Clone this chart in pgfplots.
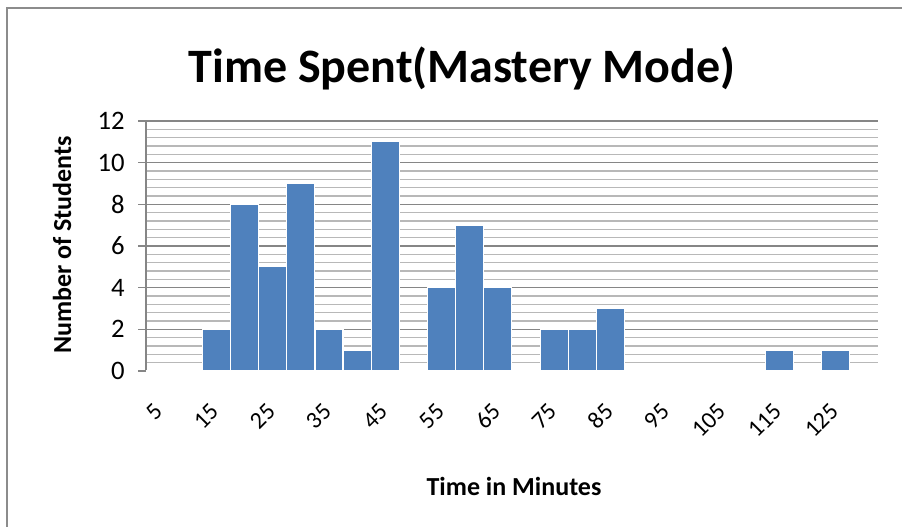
\documentclass[border=0pt]{standalone}
\usepackage{fontspec}
\setmainfont{Carlito}
\usepackage{pgfplots}
\pgfplotsset{compat=1.18}
\definecolor{barblue}{HTML}{4F81BD}
\definecolor{majgrid}{HTML}{868686}
\definecolor{mingrid}{HTML}{B8B8B8}
\definecolor{framegray}{HTML}{8C8C8C}
\begin{document}
\begin{tikzpicture}[x=0.75pt,y=0.75pt]
\path[use as bounding box] (0,0) rectangle (902,527);
\draw[framegray,line width=1.5pt] (7,-2) -- (7,519) -- (904,519);
\begin{axis}[
  at={(109.5pt,117pt)}, anchor=south west,
  scale only axis, width=549pt, height=187.5pt,
  xmin=-0.5, xmax=25.5, ymin=0, ymax=12,
  ybar, bar width=21pt, bar shift=0pt,
  xtick={0,2,...,24},
  xticklabels={5,15,25,35,45,55,65,75,85,95,105,115,125},
  xtick style={draw=none},
  xticklabel style={xshift=1.5pt, yshift=-19pt, rotate=45, anchor=east, font=\fontsize{18}{21}\selectfont},
  ytick={0,2,...,12},
  minor y tick num=4,
  yticklabel style={font=\fontsize{20}{24}\selectfont, xshift=-6.5pt},
  /pgf/number format/assume math mode=true,
  ymajorgrids, yminorgrids,
  major grid style={majgrid, line width=1pt},
  minor grid style={mingrid, line width=1pt},
  ytick style={majgrid, line width=1pt},
  tick align=outside, major tick length=6pt, minor tick length=0pt,
  axis x line*=bottom, axis y line*=left,
  axis line style={majgrid, line width=1pt},
  clip=false,
]
\addplot[fill=barblue, draw=white, line width=0.8pt] coordinates {
(0,0) (1,0) (2,2) (3,8) (4,5) (5,9) (6,2) (7,1) (8,11) (9,0) (10,4) (11,7) (12,4)
(13,0) (14,2) (15,2) (16,3) (17,0) (18,0) (19,0) (20,0) (21,0) (22,1) (23,0) (24,1) (25,0)};
\end{axis}
\node[font=\fontsize{36}{42}\bfseries\selectfont] at (462,459) {Time Spent(Mastery Mode)};
\node[font=\fontsize{19.5}{23}\bfseries\selectfont, rotate=90] at (62,282) {Number of Students};
\node[font=\fontsize{19.5}{23}\bfseries\selectfont] at (514,41) {Time in Minutes};
\end{tikzpicture}
\end{document}
